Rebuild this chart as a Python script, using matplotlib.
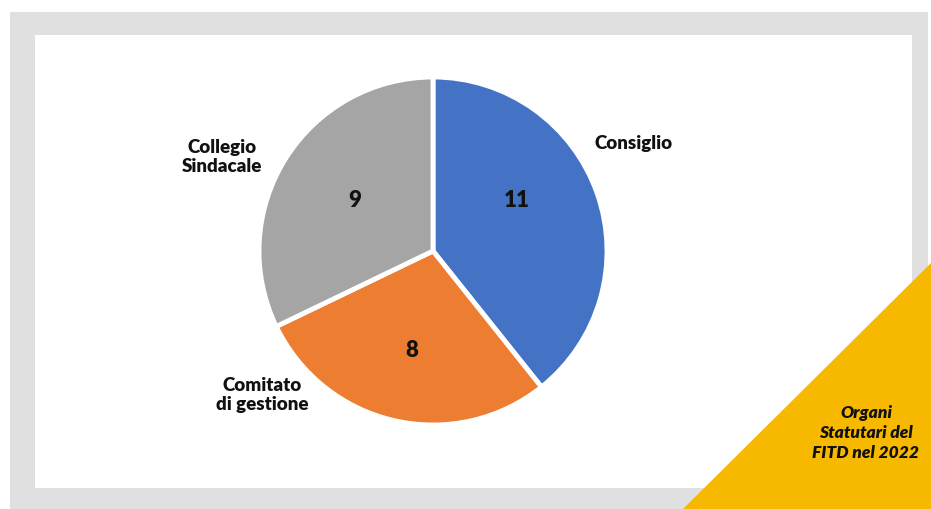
import numpy as np
import matplotlib
matplotlib.use("Agg")
import matplotlib.pyplot as plt
from matplotlib.patches import Rectangle, Polygon

# data
categories = ["Consiglio", "Comitato\ndi gestione", "Collegio\nSindacale"]
values = [11, 8, 9]
colors = ["#4472C4", "#ED7D31", "#A5A5A5"]
corner_note = "Organi\nStatutari del\nFITD nel 2022"

# label placement (pie radius units, relative to centre)
name_pos = [(1.15, 0.62), (-0.98, -0.83), (-1.21, 0.54)]
value_pos = [(0.48, 0.29), (-0.12, -0.57), (-0.45, 0.29)]

W, H = 931, 509
plt.rcParams["font.family"] = ["Lato", "DejaVu Sans"]

fig = plt.figure(figsize=(W / 100, H / 100), dpi=100)
fig.patch.set_facecolor("white")

# background frame in pixel coordinates
bg = fig.add_axes([0, 0, 1, 1])
bg.set_xlim(0, W)
bg.set_ylim(H, 0)
bg.axis("off")
bg.add_patch(Rectangle((10, 12), 918, 500, facecolor="#E0E0E0", edgecolor="none"))
bg.add_patch(Rectangle((35, 35), 877, 453, facecolor="white", edgecolor="none"))
bg.add_patch(Polygon([(683, H), (W, 263), (W, H)], closed=True,
                     facecolor="#F7B800", edgecolor="none"))
bg.text(866, 433, corner_note, ha="center", va="center",
        fontsize=12.5, fontweight="heavy", fontstyle="italic",
        color="#111111", linespacing=1.3)

# pie
cx, cy, r = 433, 251, 174
ax = fig.add_axes([(cx - r) / W, (H - cy - r) / H, 2 * r / W, 2 * r / H])
ax.pie(
    values,
    colors=colors,
    startangle=90,
    counterclock=False,
    radius=1,
    wedgeprops=dict(edgecolor="white", linewidth=3.5),
)
ax.set_xlim(-1, 1)
ax.set_ylim(-1, 1)
ax.axis("off")

for name, (x, y) in zip(categories, name_pos):
    ax.text(x, y, name, ha="center", va="center", fontsize=13.5,
            fontweight="heavy", color="#111111", linespacing=1.15)

for v, (x, y) in zip(values, value_pos):
    ax.text(x, y, str(v), ha="center", va="center", fontsize=16,
            fontweight="heavy", color="#111111")

fig.savefig("out.png", dpi=100)
